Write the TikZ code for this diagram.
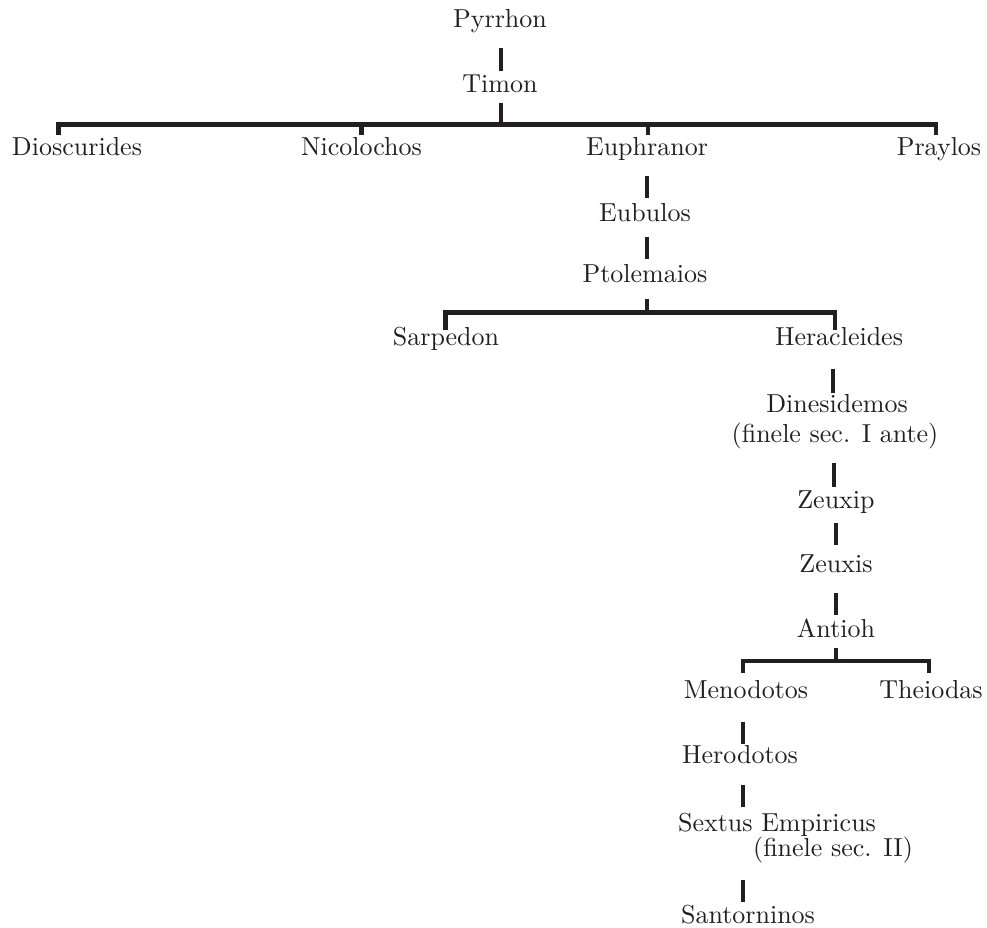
\documentclass[tikz,border=0pt]{standalone}
\usepackage{fontspec}
\setmainfont{lmroman10-regular.otf}
\usepackage{xcolor}
\definecolor{ink}{HTML}{231F20}
\begin{document}
\begin{tikzpicture}[x=1pt,y=-1pt,
  personbox/.style={inner sep=0pt,outer sep=0pt,anchor=base,text=ink,font=\fontsize{26}{30}\selectfont},
  conn/.style={draw=ink,line width=4.5pt,line cap=butt,line join=miter}]
\useasboundingbox (0,0) rectangle (987,928);
% names
\node[personbox] (pyrrhon) at (500,28) {Pyrrhon};
\node[personbox] (timon) at (500,93) {Timon};
\node[personbox] (dioscurides) at (77,156) {Dioscurides};
\node[personbox] (nicolochos) at (361.5,155.5) {Nicolochos};
\node[personbox] (euphranor) at (647,156) {Euphranor};
\node[personbox] (praylos) at (939,156) {Praylos};
\node[personbox] (eubulos) at (645,221) {Eubulos};
\node[personbox] (ptolemaios) at (645,282) {Ptolemaios};
\node[personbox] (sarpedon) at (446,345) {Sarpedon};
\node[personbox] (heracleides) at (839,345) {Heracleides};
\node[personbox] (dinesidemos) at (837,412) {Dinesidemos};
\node[personbox] (dinesinote) at (835,442) {(finele sec. I ante)};
\node[personbox] (zeuxip) at (836,508) {Zeuxip};
\node[personbox] (zeuxis) at (836,572) {Zeuxis};
\node[personbox] (antioh) at (836,637) {Antioh};
\node[personbox] (menodotos) at (746,698) {Menodotos};
\node[personbox] (theiodas) at (931,698) {Theiodas};
\node[personbox] (herodotos) at (740,763) {Herodotos};
\node[personbox] (sextus) at (777,831) {Sextus Empiricus};
\node[personbox] (sextusnote) at (833,856) {(finele sec. II)};
\node[personbox] (santorninos) at (748,923) {Santorninos};
% bar junctions
\coordinate (b1) at (501,124.5);
\coordinate (b2) at (647,312.5);
\coordinate (b3) at (836,661);
% connectors
\draw[conn] (501,48) -- (501,71);
\draw[conn] (501,103) -- (b1);
\draw[conn] (58.5,135) -- (58.5,124.5) -- (936,124.5) -- (936,135);
\draw[conn] (361.5,124.5) -- (361.5,135);
\draw[conn] (648,124.5) -- (648,135);
\draw[conn] (647,176) -- (647,198);
\draw[conn] (647,237) -- (647,259);
\draw[conn] (647,299) -- (b2);
\draw[conn] (445.5,330) -- (445.5,312.5) -- (835,312.5) -- (835,330);
\draw[conn] (833,369) -- (833,393);
\draw[conn] (834,463) -- (834,487);
\draw[conn] (836,523) -- (836,545);
\draw[conn] (836,593) -- (836,615);
\draw[conn] (836,648) -- (b3);
\draw[conn] (743,673) -- (743,661) -- (929,661) -- (929,673);
\draw[conn] (743,722) -- (743,744);
\draw[conn] (743,785) -- (743,807);
\draw[conn] (743,880) -- (743,902);
\end{tikzpicture}
\end{document}
